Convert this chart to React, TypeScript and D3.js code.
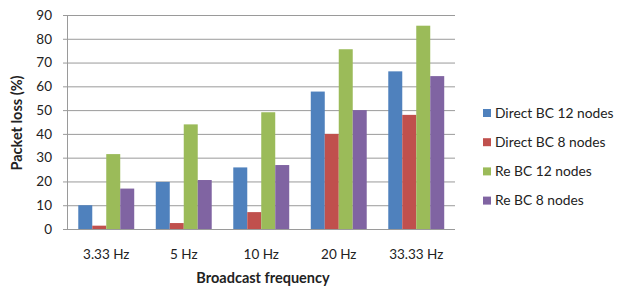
import React, { useEffect, useRef } from 'react';
import * as d3 from 'd3';

const categories = ['3.33 Hz', '5 Hz', '10 Hz', '20 Hz', '33.33 Hz'];
const seriesNames = ['Direct BC 12 nodes', 'Direct BC 8 nodes', 'Re BC 12 nodes', 'Re BC 8 nodes'];
const directBC12 = [10, 19.8, 25.9, 57.8, 66.3];
const directBC8 = [1.4, 2.5, 7.1, 40, 48];
const reBC12 = [31.5, 44, 49.1, 75.6, 85.5];
const reBC8 = [17, 20.6, 26.9, 50, 64.3];
const yTicks = [0, 10, 20, 30, 40, 50, 60, 70, 80, 90];
const colors = ['#4F81BD', '#C0504D', '#9BBB59', '#8064A2'];

const FONT = 'Lato, "Liberation Sans", sans-serif';

export default function App() {
  const svgRef = useRef<SVGSVGElement>(null);
  const width = 623;
  const height = 288;

  useEffect(() => {
    if (!svgRef.current) return;
    const svg = d3.select(svgRef.current);
    svg.selectAll('*').remove();

    const margin = { top: 15, right: 168, bottom: 59, left: 67.5 };
    const series = [directBC12, directBC8, reBC12, reBC8];

    const x = d3
      .scaleBand<string>()
      .domain(categories)
      .range([margin.left, width - margin.right]);

    const x1 = d3
      .scaleBand<number>()
      .domain(d3.range(series.length))
      .range([0, x.bandwidth()])
      .paddingOuter(0.77)
      .paddingInner(0);

    const y = d3
      .scaleLinear()
      .domain([0, 90])
      .range([height - margin.bottom, margin.top]);

    // gridlines
    svg
      .append('g')
      .selectAll('line')
      .data(yTicks)
      .join('line')
      .attr('x1', margin.left - 4.5)
      .attr('x2', width - margin.right)
      .attr('y1', (d) => y(d) + 0.5)
      .attr('y2', (d) => y(d) + 0.5)
      .attr('stroke', '#9a9a9a')
      .attr('stroke-width', 1);

    // left axis line
    svg
      .append('line')
      .attr('x1', margin.left)
      .attr('x2', margin.left)
      .attr('y1', y(90))
      .attr('y2', y(0) + 0.5)
      .attr('stroke', '#9a9a9a');

    // bars
    series.forEach((vals, si) => {
      svg
        .append('g')
        .selectAll('rect')
        .data(vals)
        .join('rect')
        .attr('x', (_d, i) => (x(categories[i]) || 0) + (x1(si) || 0))
        .attr('width', x1.bandwidth())
        .attr('y', (d) => y(d))
        .attr('height', (d) => y(0) - y(d))
        .attr('fill', colors[si]);
    });

    // y tick labels
    svg
      .append('g')
      .selectAll('text')
      .data(yTicks)
      .join('text')
      .attr('x', 52)
      .attr('y', (d) => y(d))
      .attr('dy', '0.35em')
      .attr('text-anchor', 'end')
      .attr('font-family', FONT)
      .attr('font-size', 13.5)
      .attr('fill', '#222')
      .text((d) => d);

    // x tick labels
    svg
      .append('g')
      .selectAll('text')
      .data(categories)
      .join('text')
      .attr('x', (d) => (x(d) || 0) + x.bandwidth() / 2)
      .attr('y', 259)
      .attr('text-anchor', 'middle')
      .attr('font-family', FONT)
      .attr('font-size', 13.5)
      .attr('fill', '#222')
      .text((d) => d);

    // axis titles
    svg
      .append('text')
      .attr('x', 263)
      .attr('y', 283)
      .attr('text-anchor', 'middle')
      .attr('font-family', FONT)
      .attr('font-size', 14.5)
      .attr('font-weight', 'bold')
      .attr('fill', '#222')
      .text('Broadcast frequency');

    svg
      .append('text')
      .attr('transform', `translate(22,123) rotate(-90)`)
      .attr('text-anchor', 'middle')
      .attr('font-family', FONT)
      .attr('font-size', 14.5)
      .attr('font-weight', 'bold')
      .attr('fill', '#222')
      .text('Packet loss (%)');

    // legend
    const legend = svg
      .append('g')
      .selectAll('g')
      .data(seriesNames)
      .join('g')
      .attr('transform', (_d, i) => `translate(483,${113 + i * 29.2})`);

    legend
      .append('rect')
      .attr('x', 0)
      .attr('y', -4)
      .attr('width', 8)
      .attr('height', 8)
      .attr('fill', (_d, i) => colors[i]);

    legend
      .append('text')
      .attr('x', 12)
      .attr('y', 0)
      .attr('dy', '0.35em')
      .attr('font-family', FONT)
      .attr('font-size', 13.8)
      .attr('fill', '#222')
      .text((d) => d);
  }, []);

  return (
    <svg
      ref={svgRef}
      width={width}
      height={height}
      style={{ position: 'absolute', left: 0, top: 0, background: '#fff' }}
    ></svg>
  );
}
